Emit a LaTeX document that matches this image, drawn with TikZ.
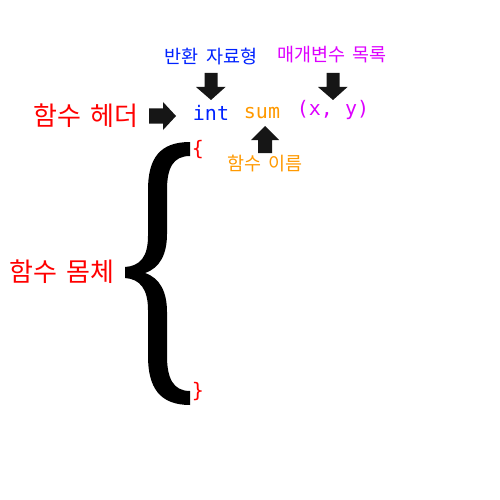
\documentclass[tikz,border=0pt]{standalone}
\usepackage{fontspec}
\newfontfamily\kr{Noto Sans CJK KR}
\newfontfamily\mono{DejaVu Sans Mono}
\definecolor{cblue}{HTML}{0022FF}
\definecolor{cred}{HTML}{FF0000}
\definecolor{corange}{HTML}{FF9900}
\definecolor{cmag}{HTML}{DD00FF}
\definecolor{carrow}{HTML}{161616}
\begin{document}
\begin{tikzpicture}[x=1pt,y=-1pt,
  small/.style={font=\kr\fontsize{18.5}{20}\selectfont, inner sep=0pt},
  big/.style={font=\kr\fontsize{26}{28}\selectfont, inner sep=0pt, text=cred},
  code/.style={font=\mono\fontsize{20}{22}\selectfont, inner sep=0pt},
  blockarrow/.style={fill=carrow, draw=none}]
\useasboundingbox (0,0) rectangle (500,500);
% labels
\node[small, text=cblue] (ret) at (211,56) {반환\hspace{0.4em}자료형};
\node[small, text=cmag] (par) at (332,55) {매개변수\hspace{0.4em}목록};
\node[code, text=cblue] (int) at (211,113) {int};
\node[code, text=corange] (sum) at (262,113) {sum};
\node[code, text=cmag] (args) at (333,110) {(x, y)};
\node[small, text=corange] (fname) at (265,164) {함수\hspace{0.4em}이름};
\node[big] (head) at (86,116) {함수\hspace{0.35em}헤더};
\node[big] (body) at (62,272) {함수\hspace{0.35em}몸체};
\node[code, text=cred] (lb) at (198,150) {\{};
\node[code, text=cred] (rb) at (198,392) {\}};
% block arrows
\coordinate (a1) at (211,73);
\fill[blockarrow] (a1) ++(-6.5,0) -- ++(13,0) -- ++(0,14) -- ++(8,0) -- (211,100) -- (196,87) -- (204.5,87) -- cycle;
\coordinate (a2) at (333,73);
\fill[blockarrow] (a2) ++(-6.5,0) -- ++(13,0) -- ++(0,14) -- ++(8,0) -- (333,100) -- (318,87) -- (326.5,87) -- cycle;
\coordinate (a3) at (265,153);
\fill[blockarrow] (a3) ++(-7,0) -- ++(14,0) -- ++(0,-13) -- ++(7,0) -- (265,126) -- (251,140) -- (258,140) -- cycle;
\coordinate (a4) at (149,116);
\fill[blockarrow] (a4) ++(0,-7.5) -- ++(14,0) -- ++(0,-6.5) -- (176,116) -- (163,130) -- (163,123.5) -- (149,123.5) -- cycle;
% big brace
\fill[black] (190,142) .. controls (160,142) and (148,158) .. (148,190)
  -- (148,236) .. controls (148,257) and (140,266) .. (125,267)
  -- (125,278) .. controls (140,279) and (148,289) .. (148,310)
  -- (148,356) .. controls (148,388) and (160,405) .. (190,405)
  -- (190,391) .. controls (173,391) and (167,378) .. (167,356)
  -- (167,312) .. controls (167,292) and (160,278) .. (145,273)
  .. controls (160,268) and (167,254) .. (167,234)
  -- (167,190) .. controls (167,168) and (173,156) .. (190,156) -- cycle;
\end{tikzpicture}
\end{document}
